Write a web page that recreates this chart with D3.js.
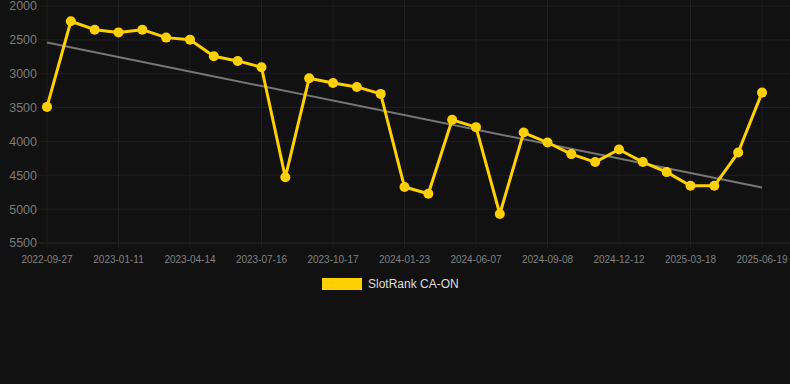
<!DOCTYPE html>
<html lang="en">
<head>
    <meta charset="utf-8">
    <title>SlotRank CA-ON</title>
    <script src="https://d3js.org/d3.v7.min.js"></script>
    <style>
        body { margin: 0; background: #111111; }
        #chart text { font-family: "Helvetica Neue", Arial, "Liberation Sans", sans-serif; }
    </style>
</head>
<body>
<div id="chart"></div>
<script>
    // rank values, one per snapshot (31 of them)
    const rankValues = [3490, 2225, 2350, 2390, 2350, 2467, 2497, 2742, 2811, 2904,
        4530, 3066, 3136, 3195, 3298, 4674, 4773, 3681, 3789, 5072,
        3869, 4016, 4187, 4305, 4119, 4305, 4453, 4655, 4655, 4164, 3279];
    // every third snapshot is labelled
    const tickLabels = ["2022-09-27", "2023-01-11", "2023-04-14", "2023-07-16", "2023-10-17",
        "2024-01-23", "2024-06-07", "2024-09-08", "2024-12-12", "2025-03-18", "2025-06-19"];
    const yTicks = [2000, 2500, 3000, 3500, 4000, 4500, 5000, 5500];
    // trend line, first and last snapshot
    const trendValues = [2540, 4680];
    const seriesName = "SlotRank CA-ON";

    const width = 790, height = 384;
    const margin = {top: 6, right: 28, bottom: 141, left: 47};
    const gold = "#ffd000";

    const svg = d3.select("#chart").append("svg")
        .attr("width", width).attr("height", height);

    const x = d3.scaleLinear()
        .domain([0, rankValues.length - 1])
        .range([margin.left, width - margin.right]);

    const y = d3.scaleLinear()
        .domain([2000, 5500])
        .range([margin.top, height - margin.bottom]);

    const tickIdx = tickLabels.map((d, i) => i * 3);

    // grid
    svg.append("g")
        .selectAll("line")
        .data(yTicks)
        .join("line")
        .attr("x1", 38).attr("x2", width)
        .attr("y1", d => y(d)).attr("y2", d => y(d))
        .attr("stroke", d => d === 5500 ? "#2a2a2a" : "#1f1f1f");

    svg.append("g")
        .selectAll("line")
        .data(tickIdx)
        .join("line")
        .attr("x1", d => x(d)).attr("x2", d => x(d))
        .attr("y1", 0).attr("y2", y(5500) + 5)
        .attr("stroke", "#1f1f1f");

    // y labels
    svg.append("g")
        .selectAll("text")
        .data(yTicks)
        .join("text")
        .attr("x", 37)
        .attr("y", d => y(d))
        .attr("dy", "0.35em")
        .attr("text-anchor", "end")
        .attr("font-size", 12.5)
        .attr("fill", "#7a7a7a")
        .text(d => d);

    // x labels
    svg.append("g")
        .selectAll("text")
        .data(tickIdx)
        .join("text")
        .attr("x", d => x(d))
        .attr("y", 263)
        .attr("text-anchor", "middle")
        .attr("font-size", 10)
        .attr("fill", "#808080")
        .text((d, i) => tickLabels[i]);

    // trend
    svg.append("line")
        .attr("x1", x(0)).attr("x2", x(rankValues.length - 1))
        .attr("y1", y(trendValues[0])).attr("y2", y(trendValues[1]))
        .attr("stroke", "#777")
        .attr("stroke-width", 2);

    const line = d3.line()
        .x((d, i) => x(i))
        .y(d => y(d));

    svg.append("path")
        .datum(rankValues)
        .attr("fill", "none")
        .attr("stroke", gold)
        .attr("stroke-width", 3)
        .attr("stroke-linejoin", "round")
        .attr("d", line);

    svg.append("g")
        .selectAll("circle")
        .data(rankValues)
        .join("circle")
        .attr("cx", (d, i) => x(i))
        .attr("cy", d => y(d))
        .attr("r", 5)
        .attr("fill", gold);

    // legend
    const legend = svg.append("g");
    legend.append("rect")
        .attr("x", 322).attr("y", 278)
        .attr("width", 40).attr("height", 12)
        .attr("fill", gold);
    legend.append("text")
        .attr("x", 368).attr("y", 284)
        .attr("dy", "0.35em")
        .attr("font-size", 12)
        .attr("fill", "#dddddd")
        .text(seriesName);
</script>
</body>
</html>
